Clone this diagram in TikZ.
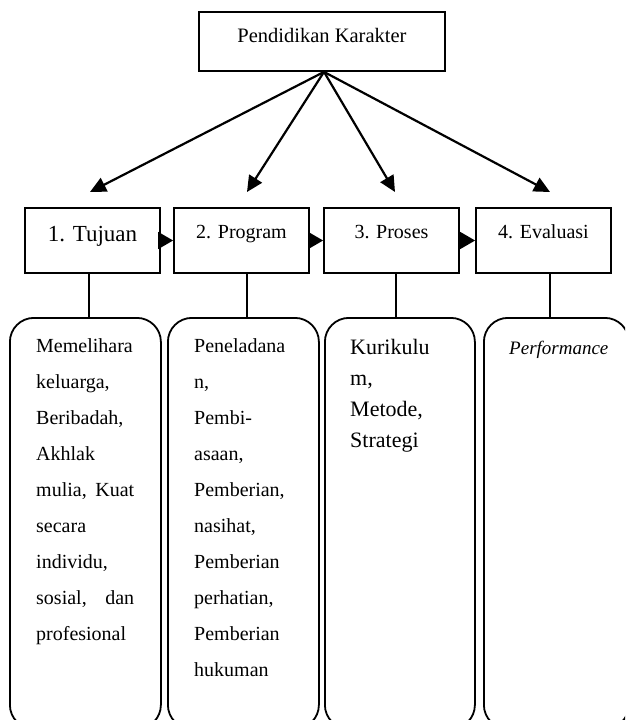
\documentclass[tikz,border=0pt]{standalone}
\usepackage{fontspec}
\setmainfont{Liberation Serif}
\usetikzlibrary{arrows.meta}
\begin{document}
\begin{tikzpicture}[x=1pt,y=-1pt,
  box/.style={draw, line width=1.8pt, inner sep=0pt, minimum width=135pt, font=\fontsize{20}{24}\selectfont},
  rbox/.style={draw, line width=1.8pt, rounded corners=24pt, inner sep=0pt, anchor=north west, minimum height=411pt},
  conn/.style={line width=1.8pt},
  bigarr/.style={line width=2.2pt, -{Triangle[length=16pt,width=15pt]}},
  smallarr/.style={line width=1.5pt, -{Triangle[length=15pt,width=17pt]}},
  txt/.style={inner sep=0pt, align=left, anchor=north west}
]
\useasboundingbox (0,0) rectangle (625,720);
\clip (0,0) rectangle (625,720);

% top box
\node[box, minimum width=246pt, text height=30pt, text depth=29pt, font=\fontsize{20.5}{24}\selectfont] (pk) at (322,41.5) {Pendidikan Karakter};

% row boxes
\node[box, text height=33pt, text depth=32pt, font=\fontsize{23}{26}\selectfont] (tj) at (92.5,240.5) {1. Tujuan};
\node[box, text height=30pt, text depth=35pt] (pg) at (241.5,240.5) {2. Program};
\node[box, text height=30pt, text depth=35pt] (ps) at (391.5,240.5) {3. Proses};
\node[box, text height=30pt, text depth=35pt] (ev) at (543.5,240.5) {4. Evaluasi};

% arrow targets
\coordinate (a1) at (90,192);
\coordinate (a2) at (247,192);
\coordinate (a3) at (395,192);
\coordinate (a4) at (550,192);
\draw[bigarr] ([xshift=2pt]pk.south) -- (a1);
\draw[bigarr] ([xshift=2pt]pk.south) -- (a2);
\draw[bigarr] ([xshift=2pt]pk.south) -- (a3);
\draw[bigarr] ([xshift=2pt]pk.south) -- (a4);

% small arrows between boxes
\draw[smallarr] (tj.east) -- (pg.west);
\draw[smallarr] (pg.east) -- (ps.west);
\draw[smallarr] (ps.east) -- (ev.west);

% rounded boxes
\node[rbox, minimum width=151pt] (r1) at (9,317) {};
\node[rbox, minimum width=151pt] (r2) at (167,317) {};
\node[rbox, minimum width=150pt] (r3) at (324,317) {};
\node[rbox, minimum width=145pt] (r4) at (483,317) {};

% vertical connectors
\draw[conn] ([xshift=-3.5pt]tj.south) -- ([xshift=-3.5pt]tj.south |- r1.north);
\draw[conn] ([xshift=5.5pt]pg.south) -- ([xshift=5.5pt]pg.south |- r2.north);
\draw[conn] ([xshift=4.5pt]ps.south) -- ([xshift=4.5pt]ps.south |- r3.north);
\draw[conn] ([xshift=6.5pt]ev.south) -- ([xshift=6.5pt]ev.south |- r4.north);

% texts
\node[txt, font=\fontsize{20}{36}\selectfont] (t1) at (36,326.8) {\strut Memelihara\\ keluarga,\\ Beribadah,\\ Akhlak\\ \hbox to 98pt{mulia,\hfill Kuat}\\ secara\\ individu,\\ \hbox to 98pt{sosial,\hfill dan}\\ profesional};
\node[txt, font=\fontsize{20}{36}\selectfont] (t2) at (194,326.8) {\strut Peneladana\\ n,\\ Pembi-\\ asaan,\\ Pemberian,\\ nasihat,\\ Pemberian\\ perhatian,\\ Pemberian\\ hukuman};
\node[txt, font=\fontsize{22}{31}\selectfont] (t3) at (350,332.3) {\strut Kurikulu\\ m,\\ Metode,\\ Strategi};
\node[inner sep=0pt, anchor=base west, font=\fontsize{19}{22}\selectfont\itshape] (t4) at (509,354) {Performance};
\end{tikzpicture}
\end{document}
